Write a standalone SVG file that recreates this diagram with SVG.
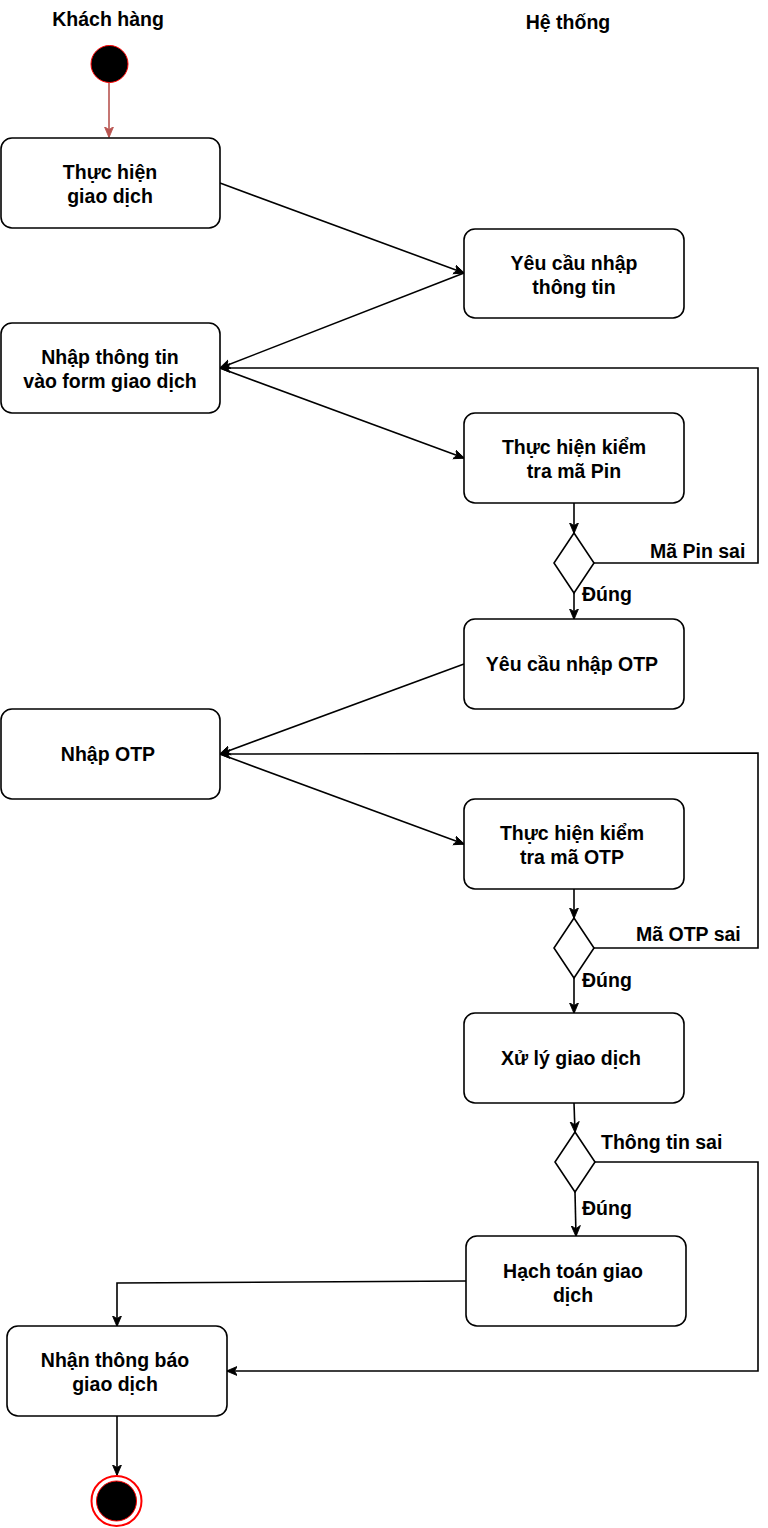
<svg xmlns="http://www.w3.org/2000/svg" width="768" height="1528" viewBox="0 0 768 1528">
<style>
.box{fill:#fff;stroke:#000;stroke-width:1.6}
.dia{fill:#fff;stroke:#000;stroke-width:1.6}
.t{font-family:"Liberation Sans",Arial,sans-serif;font-weight:bold;font-size:19.5px;fill:#000;text-anchor:middle}
.lbl{font-family:"Liberation Sans",Arial,sans-serif;font-weight:bold;font-size:19.5px;fill:#000;text-anchor:start}
.c{fill:none;stroke:#000;stroke-width:1.6}
</style>
<defs>
<marker id="ah" viewBox="0 0 10 10" refX="9.5" refY="5" markerWidth="11" markerHeight="11" markerUnits="userSpaceOnUse" orient="auto">
<path d="M0,0.8 L10,5 L0,9.2 L2.8,5 Z" fill="#000" stroke="#000" stroke-width="0.8"/>
</marker>
<marker id="ahr" viewBox="0 0 10 10" refX="9.5" refY="5" markerWidth="11" markerHeight="11" markerUnits="userSpaceOnUse" orient="auto">
<path d="M0,0.8 L10,5 L0,9.2 L2.8,5 Z" fill="#b85450" stroke="#b85450" stroke-width="0.8"/>
</marker>
</defs>
<rect width="768" height="1528" fill="#fff"/>
<text class="t" x="108" y="26">Khách hàng</text>
<text class="t" x="568" y="29">Hệ thống</text>

<g id="connectors">
<path d="M109,83 L109,137" fill="none" stroke="#b85450" stroke-width="1.6" marker-end="url(#ahr)"/>
<path class="c" d="M220,183 L464,273" marker-end="url(#ah)"/>
<path class="c" d="M464,273 L220,368" marker-end="url(#ah)"/>
<path class="c" d="M220,368 L464,458" marker-end="url(#ah)"/>
<path class="c" d="M574,503 L574,533" marker-end="url(#ah)"/>
<path class="c" d="M594,563 L758,563 L758,368 L220,368" marker-end="url(#ah)"/>
<path class="c" d="M574,593 L574,619" marker-end="url(#ah)"/>
<path class="c" d="M464,664 L220,754" marker-end="url(#ah)"/>
<path class="c" d="M220,754 L464,844" marker-end="url(#ah)"/>
<path class="c" d="M574,889 L574,918" marker-end="url(#ah)"/>
<path class="c" d="M594,948 L758,948 L758,753 L220,754" marker-end="url(#ah)"/>
<path class="c" d="M574,978 L574,1013" marker-end="url(#ah)"/>
<path class="c" d="M574,1103 L575,1132" marker-end="url(#ah)"/>
<path class="c" d="M575,1192 L576,1236" marker-end="url(#ah)"/>
<path class="c" d="M595,1162 L758,1162 L758,1371 L227,1371" marker-end="url(#ah)"/>
<path class="c" d="M466,1281 L117,1283 L117,1326" marker-end="url(#ah)"/>
<path class="c" d="M117,1416 L117,1475" marker-end="url(#ah)"/>
<text class="lbl" x="650" y="558">Mã Pin sai</text>
<text class="lbl" x="582" y="601">Đúng</text>
<text class="lbl" x="636" y="941">Mã OTP sai</text>
<text class="lbl" x="582" y="987">Đúng</text>
<text class="lbl" x="601" y="1149">Thông tin sai</text>
<text class="lbl" x="582" y="1215">Đúng</text>
</g>

<g id="start"><circle cx="109.5" cy="64" r="18.5" fill="#000" stroke="#ff0000" stroke-width="1"/></g>

<g id="n1"><rect class="box" x="1" y="138" width="219" height="90" rx="11"/>
<text class="t" x="110" y="179">Thực hiện</text><text class="t" x="110" y="203">giao dịch</text></g>

<g id="n2"><rect class="box" x="464" y="229" width="220" height="89" rx="11"/>
<text class="t" x="574" y="270">Yêu cầu nhập</text><text class="t" x="574" y="294">thông tin</text></g>

<g id="n3"><rect class="box" x="1" y="323" width="219" height="90" rx="11"/>
<text class="t" x="110" y="364">Nhập thông tin</text><text class="t" x="110" y="388">vào form giao dịch</text></g>

<g id="n4"><rect class="box" x="464" y="413" width="220" height="90" rx="11"/>
<text class="t" x="574" y="454">Thực hiện kiểm</text><text class="t" x="574" y="478">tra mã Pin</text></g>

<g id="d1"><path class="dia" d="M574,533 L594,563 L574,593 L554,563 Z"/></g>

<g id="n5"><rect class="box" x="464" y="619" width="220" height="90" rx="11"/>
<text class="t" x="572" y="671">Yêu cầu nhập OTP</text></g>

<g id="n6"><rect class="box" x="1" y="709" width="219" height="90" rx="11"/>
<text class="t" x="108" y="761">Nhập OTP</text></g>

<g id="n7"><rect class="box" x="464" y="799" width="220" height="90" rx="11"/>
<text class="t" x="572" y="840">Thực hiện kiểm</text><text class="t" x="572" y="864">tra mã OTP</text></g>

<g id="d2"><path class="dia" d="M574,918 L594,948 L574,978 L554,948 Z"/></g>

<g id="n8"><rect class="box" x="464" y="1013" width="220" height="90" rx="11"/>
<text class="t" x="571" y="1065">Xử lý giao dịch</text></g>

<g id="d3"><path class="dia" d="M575,1132 L595,1162 L575,1192 L555,1162 Z"/></g>

<g id="n9"><rect class="box" x="466" y="1236" width="220" height="90" rx="11"/>
<text class="t" x="573" y="1278">Hạch toán giao</text><text class="t" x="573" y="1302">dịch</text></g>

<g id="n10"><rect class="box" x="7" y="1326" width="220" height="90" rx="11"/>
<text class="t" x="115" y="1367">Nhận thông báo</text><text class="t" x="115" y="1391">giao dịch</text></g>

<g id="end"><circle cx="116.5" cy="1501" r="25" fill="#fff" stroke="#ff0000" stroke-width="2"/>
<circle cx="116.5" cy="1501" r="20" fill="#000" stroke="#ff0000" stroke-width="1"/></g>
</svg>
